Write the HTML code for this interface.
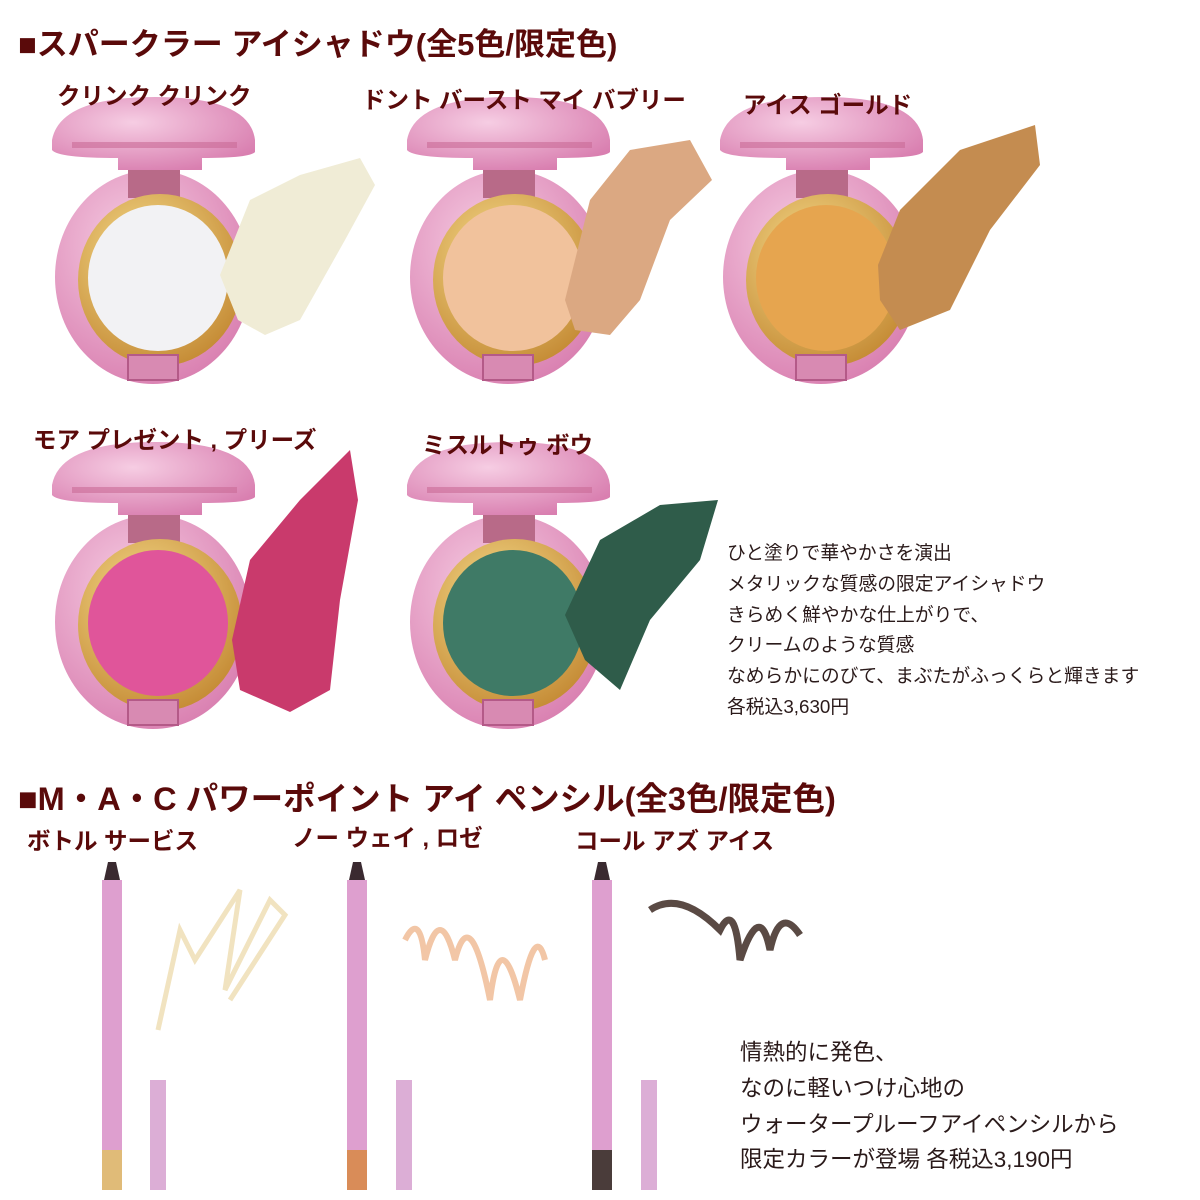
<!DOCTYPE html>
<html><head><meta charset="utf-8"><style>
body{margin:0;background:#fff;}
#c{position:relative;width:1200px;height:1200px;overflow:hidden;font-family:"Liberation Sans","Noto Sans CJK JP",sans-serif;color:#5a0a0a;}
.t{position:absolute;white-space:nowrap;font-weight:bold;}
.h{font-size:31px;}
.l{font-size:23.5px;}
.d{position:absolute;white-space:nowrap;color:#2a1a1a;}
</style></head><body><div id="c">
<svg width="1200" height="1200" style="position:absolute;left:0;top:0">
<defs>
<radialGradient id="pk" cx="40%" cy="35%" r="70%"><stop offset="0" stop-color="#f6cde3"/><stop offset="1" stop-color="#d97fb0"/></radialGradient>
<radialGradient id="gd" cx="40%" cy="35%" r="70%"><stop offset="0" stop-color="#f6dc8c"/><stop offset="1" stop-color="#c48a34"/></radialGradient>
<g id="cmp">
<ellipse cx="153" cy="277" rx="98" ry="107" fill="url(#pk)"/>
<rect x="128" y="168" width="52" height="30" fill="#b86a88"/>
<ellipse cx="160" cy="280" rx="82" ry="86" fill="url(#gd)"/>
<rect x="128" y="355" width="50" height="25" fill="#d88ab2" stroke="#b45a88" stroke-width="2"/>
<path d="M52 140 Q60 97 155 97 Q250 97 255 140 L255 152 Q250 158 202 158 L202 170 L118 170 L118 158 Q58 158 52 150Z" fill="url(#pk)"/>
<rect x="72" y="142" width="165" height="6" fill="#c96a96" opacity=".6"/>
</g>
</defs>
<use href="#cmp"/>
<ellipse cx="158" cy="278" rx="70" ry="73" fill="#f2f2f4"/>
<use href="#cmp" x="355"/>
<ellipse cx="513" cy="278" rx="70" ry="73" fill="#f1c29c"/>
<use href="#cmp" x="668"/>
<ellipse cx="826" cy="278" rx="70" ry="73" fill="#e6a54f"/>
<use href="#cmp" x="0" y="345"/>
<ellipse cx="158" cy="623" rx="70" ry="73" fill="#e0559a"/>
<use href="#cmp" x="355" y="345"/>
<ellipse cx="513" cy="623" rx="70" ry="73" fill="#3f7a66"/>
<path d="M220 275 L250 200 L300 175 L360 158 L375 185 L345 240 L300 320 L265 335 L238 320 Z" fill="#f0ecd6"/>
<path d="M565 300 L590 200 L630 150 L690 140 L712 180 L670 220 L640 300 L610 335 L575 330 Z" fill="#dba882"/>
<path d="M878 265 L900 210 L960 150 L1035 125 L1040 165 L990 230 L950 310 L900 330 L880 300 Z" fill="#c48c50"/>
<path d="M232 640 L250 560 L300 500 L350 450 L358 500 L340 600 L330 690 L290 712 L240 690 Z" fill="#c93a6c"/>
<path d="M565 615 L600 540 L660 505 L718 500 L700 560 L650 620 L620 690 L585 660 Z" fill="#2f5c4a"/>
<g>
<rect x="102" y="880" width="20" height="310" fill="#de9fcf"/>
<path d="M104 880 L108 862 L116 862 L120 880Z" fill="#3a2a30"/>
<rect x="102" y="1150" width="20" height="40" fill="#e0bb78"/>
<rect x="150" y="1080" width="16" height="110" fill="#dcaed6"/>
<path d="M158 1030 L180 930 L195 960 L240 890 L225 990 L270 900 L285 915 L230 1000" fill="none" stroke="#f1e3c0" stroke-width="5"/>
</g>
<g>
<rect x="347" y="880" width="20" height="310" fill="#de9fcf"/>
<path d="M349 880 L353 862 L361 862 L365 880Z" fill="#3a2a30"/>
<rect x="347" y="1150" width="20" height="40" fill="#d98c58"/>
<rect x="396" y="1080" width="16" height="110" fill="#dcaed6"/>
<path d="M405 940 Q420 910 425 960 Q440 900 455 960 Q470 900 490 1000 Q500 920 520 1000 Q535 920 545 960" fill="none" stroke="#f2c6a6" stroke-width="6"/>
</g>
<g>
<rect x="592" y="880" width="20" height="310" fill="#de9fcf"/>
<path d="M594 880 L598 862 L606 862 L610 880Z" fill="#3a2a30"/>
<rect x="592" y="1150" width="20" height="40" fill="#4a3c3a"/>
<rect x="641" y="1080" width="16" height="110" fill="#dcaed6"/>
<path d="M650 910 Q680 890 720 930 Q735 900 740 960 Q760 900 770 950 Q780 905 800 935" fill="none" stroke="#5a4a44" stroke-width="7"/>
</g>
</svg>
<div class="t h" style="left:18px;top:19px">■スパークラー アイシャドウ(全5色/限定色)</div>
<div class="t l" style="left:57px;top:77px">クリンク クリンク</div>
<div class="t l" style="left:362px;top:81px">ドント バースト マイ バブリー</div>
<div class="t l" style="left:743px;top:86px">アイス ゴールド</div>
<div class="t l" style="left:33px;top:421px">モア プレゼント , プリーズ</div>
<div class="t l" style="left:422px;top:426px">ミスルトゥ ボウ</div>
<div class="d" style="left:727px;top:538px;font-size:18.8px;line-height:30.8px">ひと塗りで華やかさを演出<br>メタリックな質感の限定アイシャドウ<br>きらめく鮮やかな仕上がりで、<br>クリームのような質感<br>なめらかにのびて、まぶたがふっくらと輝きます<br>各税込3,630円</div>
<div class="t" style="left:18px;top:773px;font-size:32.5px">■M・A・C パワーポイント アイ ペンシル(全3色/限定色)</div>
<div class="t l" style="left:27px;top:822px">ボトル サービス</div>
<div class="t l" style="left:292px;top:819px">ノー ウェイ , ロゼ</div>
<div class="t l" style="left:575px;top:822px">コール アズ アイス</div>
<div class="d" style="left:740px;top:1035px;font-size:22.5px;line-height:35.8px">情熱的に発色、<br>なのに軽いつけ心地の<br>ウォータープルーフアイペンシルから<br>限定カラーが登場 各税込3,190円</div>
</div></body></html>
